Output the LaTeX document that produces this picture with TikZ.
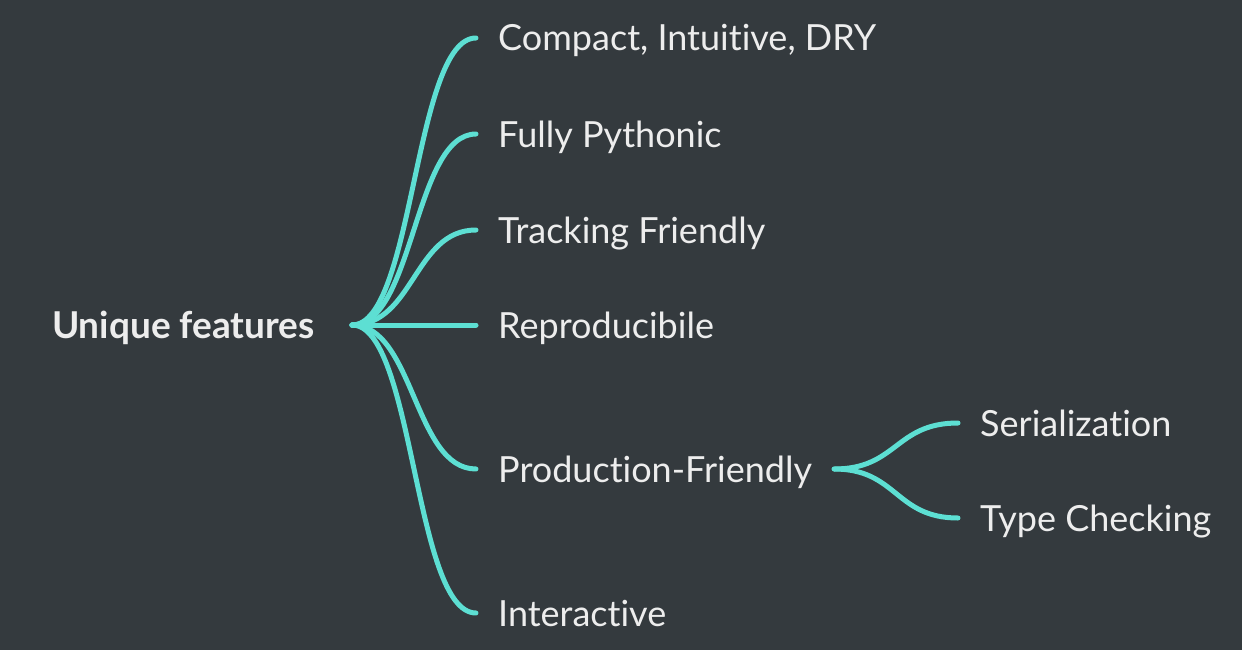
\documentclass[tikz,border=0pt]{standalone}
\usepackage{fontspec}
\setmainfont{Lato}[RawFeature={-liga}]
\definecolor{bgdark}{HTML}{343A3E}
\definecolor{branch}{HTML}{5DDFD3}
\definecolor{label}{HTML}{EDEDED}
\begin{document}
\begin{tikzpicture}[x=1pt,y=-1pt,
  leaf/.style={anchor=west, inner xsep=22pt, inner ysep=0pt, text height=26pt, text depth=0pt,
    text=label, font=\fontsize{36}{42}\selectfont},
  rootnode/.style={anchor=east, inner xsep=37pt, inner ysep=0pt, text height=26pt, text depth=0pt,
    text=label, font=\fontsize{37}{42}\selectfont\bfseries},
  link/.style={draw=branch, line width=5pt, line cap=round}]
\fill[bgdark] (0,0) rectangle (1242,650);
\useasboundingbox (0,0) rectangle (1242,650);

\node[rootnode] (root) at (352,325) {Unique features};

\node[leaf] (c1) at (476,38)  {Compact, Intuitive, DRY};
\node[leaf] (c2) at (476,134) {Fully Pythonic};
\node[leaf] (c3) at (476,230) {Tracking Friendly};
\node[leaf] (c4) at (476,325) {Reproducibile};
\node[leaf] (c5) at (476,469) {Production-Friendly};
\node[leaf] (c6) at (476,613) {Interactive};

\node[leaf] (s1) at (958,423) {Serialization};
\node[leaf] (s2) at (958,518) {Type Checking};

\foreach \c in {c1,c2,c3,c4,c5,c6}
  \draw[link] (root.east) .. controls +(62,0) and +(-62,0) .. (\c.west);
\foreach \s in {s1,s2}
  \draw[link] (c5.east) .. controls +(63,0) and +(-63,0) .. (\s.west);
\end{tikzpicture}
\end{document}
